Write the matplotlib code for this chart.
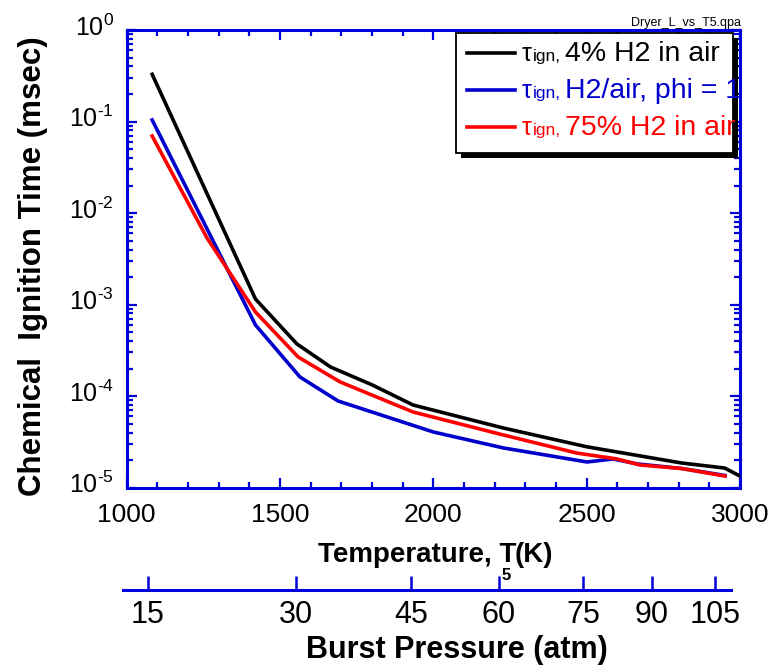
import matplotlib
matplotlib.use("Agg")
import numpy as np
import matplotlib.pyplot as plt
from matplotlib.patches import Rectangle
from matplotlib.transforms import IdentityTransform, ScaledTranslation
from matplotlib.ticker import (MultipleLocator, LogLocator, FixedLocator,
                               NullFormatter, FuncFormatter)

plt.rcParams['font.family'] = ['Liberation Sans', 'DejaVu Sans']
plt.rcParams['mathtext.fontset'] = 'custom'
plt.rcParams['mathtext.rm'] = 'Liberation Sans'
plt.rcParams['mathtext.it'] = 'Liberation Sans:italic'
plt.rcParams['mathtext.bf'] = 'Liberation Sans:bold'

# Ignition delay (msec) versus reflected-shock temperature T5 (K)
T_lean = [1083, 1420, 1555, 1665, 1800, 1934, 2228, 2500, 2810, 2950, 3000]
tau_lean = [0.328, 1.15e-3, 3.72e-4, 2.08e-4, 1.33e-4, 8.0e-5, 4.49e-5,
            2.8e-5, 1.86e-5, 1.64e-5, 1.34e-5]

T_stoich = [1083, 1420, 1565, 1689, 2000, 2228, 2501, 2586, 2664, 2810, 2951]
tau_stoich = [0.104, 5.99e-4, 1.62e-4, 8.86e-5, 4.06e-5, 2.72e-5, 1.91e-5,
              2.06e-5, 1.82e-5, 1.62e-5, 1.36e-5]

T_rich = [1083, 1262, 1420, 1559, 1696, 1934, 2228, 2468, 2599, 2674, 2810, 2951]
tau_rich = [0.0695, 5.34e-3, 8.3e-4, 2.68e-4, 1.43e-4, 6.71e-5, 3.77e-5,
            2.39e-5, 2.06e-5, 1.77e-5, 1.62e-5, 1.34e-5]

series_labels = ["4% H2 in air", "H2/air, phi = 1", "75% H2 in air"]
series_colors = ["#000000", "#0000CC", "#FF0000"]

# Burst pressure scale: pressure values and the T5 they correspond to
pressure_ticks = [15, 30, 45, 60, 75, 90, 105]
pressure_T = [1069, 1552, 1927, 2214, 2488, 2713, 2919]
pressure_range_T = [988, 2970]

AXIS_BLUE = "#0000DD"
W, H = 773, 667
fig = plt.figure(figsize=(W / 100, H / 100), dpi=100)

ax_l, ax_r, ax_t, ax_b = 126.7, 740.0, 30.0, 487.7
ax = fig.add_axes([ax_l / W, 1 - ax_b / H, (ax_r - ax_l) / W, (ax_b - ax_t) / H])

for T, tau, c in zip([T_lean, T_stoich, T_rich], [tau_lean, tau_stoich, tau_rich],
                     series_colors):
    ax.plot(T, tau, color=c, lw=2.6, solid_joinstyle='miter', zorder=3)

ax.set_yscale('log')
ax.set_xlim(1000, 3000)
ax.set_ylim(1e-5, 1)
ax.xaxis.set_major_locator(MultipleLocator(500))
ax.xaxis.set_minor_locator(MultipleLocator(100))
ax.yaxis.set_major_locator(LogLocator(base=10, numticks=10))
ax.yaxis.set_minor_locator(LogLocator(base=10, subs=range(2, 10), numticks=10))
ax.yaxis.set_minor_formatter(NullFormatter())


def decade_label(v, pos):
    e = int(round(np.log10(v)))
    exp = str(abs(e)) if e >= 0 else r'\text{-}' + str(abs(e))
    return r'$\mathregular{10^{%s}}$' % exp


ax.yaxis.set_major_formatter(FuncFormatter(decade_label))

for sp in ax.spines.values():
    sp.set_color(AXIS_BLUE)
    sp.set_linewidth(2.2)
ax.tick_params(which='both', direction='in', top=True, right=True,
               color=AXIS_BLUE, width=1.6)
ax.tick_params(which='major', length=7.5)
ax.tick_params(which='minor', length=4)
ax.tick_params(axis='x', labelsize=19, pad=11)
ax.tick_params(axis='y', labelsize=18, pad=9)
lift = ScaledTranslation(0, 5 / 100, fig.dpi_scale_trans)
for lbl in ax.yaxis.get_majorticklabels():
    lbl.set_transform(lbl.get_transform() + lift)

# Legend box with drop shadow
def px_to_ax(x, y):
    return (x - ax_l) / (ax_r - ax_l), (ax_b - y) / (ax_b - ax_t)

bx0, by0 = px_to_ax(456, 153)
bx1, by1 = px_to_ax(733, 33)
sdx, sdy = 5 / (ax_r - ax_l), 5 / (ax_b - ax_t)
ax.add_patch(Rectangle((bx0 + sdx, by0 - sdy), bx1 - bx0, by1 - by0,
                       transform=ax.transAxes, facecolor='black',
                       edgecolor='black', lw=0, zorder=5, clip_on=False))
ax.add_patch(Rectangle((bx0, by0), bx1 - bx0, by1 - by0,
                       transform=ax.transAxes, facecolor='white',
                       edgecolor='black', lw=1.3, zorder=6, clip_on=False))

row_y = [53, 90, 127]
fig.canvas.draw()
renderer = fig.canvas.get_renderer()
for ry, lab, c in zip(row_y, series_labels, series_colors):
    lx0, ly = px_to_ax(467, ry)
    lx1, _ = px_to_ax(515, ry)
    ax.plot([lx0, lx1], [ly, ly], color=c, lw=2.6, transform=ax.transAxes,
            zorder=7, clip_on=False)
    x = 522.0
    y_base = H - (ry + 8)
    for s, size, gap in [("τ", 18, 1.0), ("ign,", 12.5, 4.5), (lab, 20.5, 0)]:
        t = ax.text(x, y_base, s, transform=IdentityTransform(), fontsize=size,
                    color=c, ha='left', va='baseline', zorder=8, clip_on=True)
        x += t.get_window_extent(renderer).width + gap

# Pressure scale below the temperature axis
line_y = 590.0
pax = fig.add_axes([ax_l / W, 1 - line_y / H, (ax_r - ax_l) / W, 0.02])
pax.set_xlim(1000, 3000)
pax.patch.set_visible(False)
for k in ['top', 'left', 'right']:
    pax.spines[k].set_visible(False)
pax.spines['bottom'].set_color(AXIS_BLUE)
pax.spines['bottom'].set_linewidth(2.2)
pax.spines['bottom'].set_bounds(*pressure_range_T)
pax.set_yticks([])
pax.xaxis.set_major_locator(FixedLocator(pressure_T))
pax.set_xticklabels([str(p) for p in pressure_ticks])
pax.tick_params(axis='x', direction='in', length=10, width=1.8,
                color=AXIS_BLUE, labelsize=22, pad=7)

# Axis titles and annotations
fig.text(33 / W, 1 - 266 / H, "Chemical  Ignition Time (msec)", rotation=90,
         ha='center', va='center', fontsize=22.5, fontweight='bold')
fig.text(318 / W, 1 - 555 / H, "Temperature, T", ha='left', va='center',
         fontsize=20, fontweight='bold')
fig.text(553 / W, 1 - 555 / H, "(K)", ha='right', va='center',
         fontsize=20, fontweight='bold')
fig.text(506 / W, 1 - 576 / H, "5", ha='center', va='center',
         fontsize=12, fontweight='bold')
fig.text(457 / W, 1 - 650 / H, "Burst Pressure (atm)", ha='center', va='center',
         fontsize=22, fontweight='bold')
fig.text(741 / W, 1 - 26 / H, "Dryer_L_vs_T5.qpa", ha='right', va='baseline',
         fontsize=9)

fig.savefig("out.png", dpi=100)
